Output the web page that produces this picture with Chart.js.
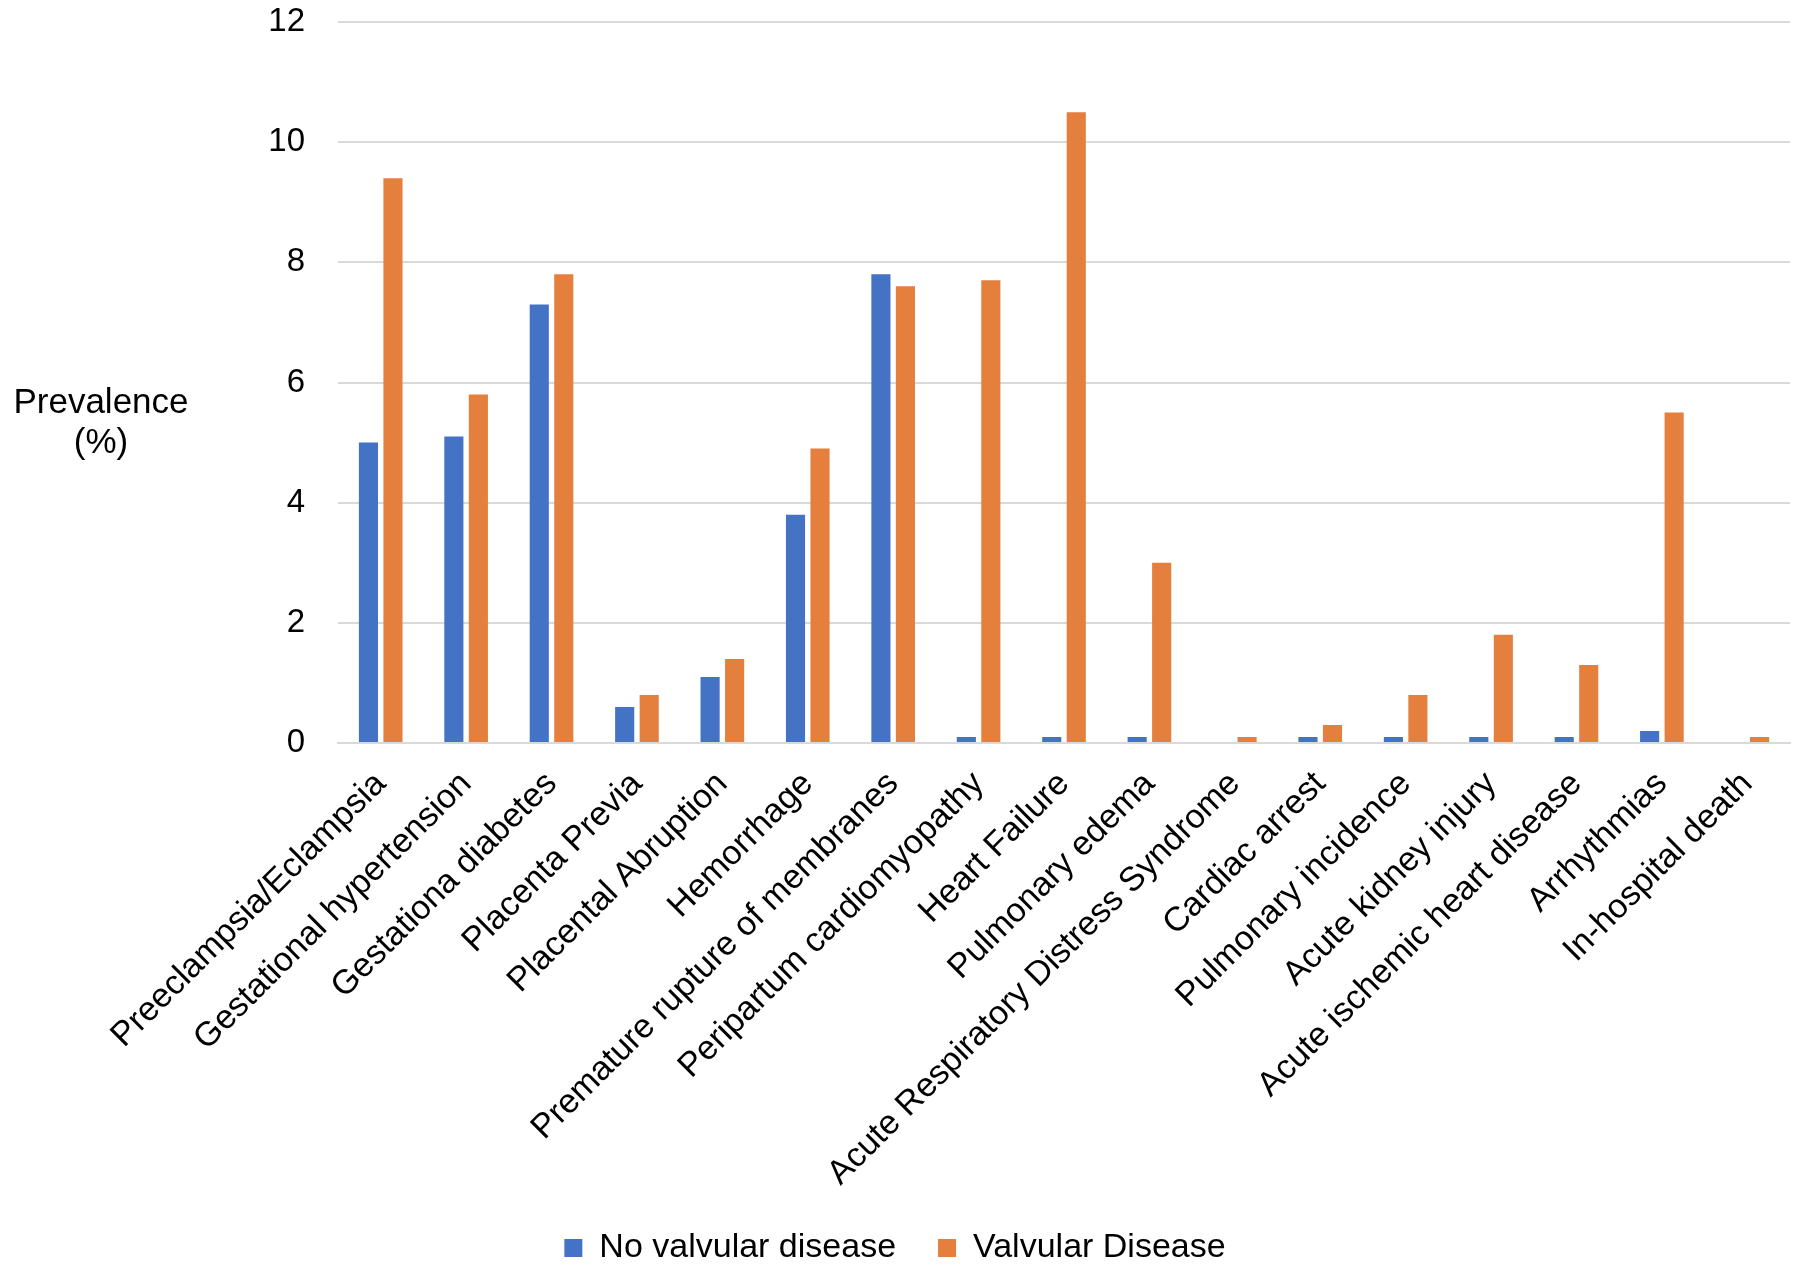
<!DOCTYPE html>
<html>
<head>
<meta charset="utf-8">
<script src="https://cdn.jsdelivr.net/npm/chart.js@4/dist/chart.umd.min.js"></script>
<style>
  html, body { margin: 0; padding: 0; background: #fff; }
  #wrap { position: relative; width: 1800px; height: 1267px; }
  #ytitle {
    position: absolute; left: 0; top: 381px; width: 202px;
    text-align: center; font-family: "Liberation Sans", Arial, sans-serif;
    font-size: 35px; line-height: 40px; color: #000;
  }
</style>
</head>
<body>
<div id="wrap">
  <canvas id="chart"></canvas>
  <div id="ytitle">Prevalence<br>(%)</div>
</div>
<script>
const categories = [
  'Preeclampsia/Eclampsia', 'Gestational hypertension', 'Gestationa diabetes',
  'Placenta Previa', 'Placental Abruption', 'Hemorrhage',
  'Premature rupture of membranes', 'Peripartum cardiomyopathy', 'Heart Failure',
  'Pulmonary edema', 'Acute Respiratory Distress Syndrome', 'Cardiac arrest',
  'Pulmonary incidence', 'Acute kidney injury', 'Acute ischemic heart disease',
  'Arrhythmias', 'In-hospital death'
];
const noValvular = [5.0, 5.1, 7.3, 0.6, 1.1, 3.8, 7.8, 0.1, 0.1, 0.1, 0, 0.1, 0.1, 0.1, 0.1, 0.2, 0];
const valvular = [9.4, 5.8, 7.8, 0.8, 1.4, 4.9, 7.6, 7.7, 10.5, 3.0, 0.1, 0.3, 0.8, 1.8, 1.3, 5.5, 0.1];
const seriesNames = ['No valvular disease', 'Valvular Disease'];
const yTicks = [0, 2, 4, 6, 8, 10, 12];

const FONT = '"Liberation Sans", Arial, sans-serif';
const GRID = '#d9d9d9';

new Chart(document.getElementById('chart'), {
  type: 'bar',
  data: {
    labels: categories,
    datasets: [
      { label: seriesNames[0], data: noValvular, backgroundColor: '#4472C4' },
      { label: seriesNames[1], data: valvular, backgroundColor: '#E47F3E' }
    ]
  },
  options: {
    responsive: true,
    maintainAspectRatio: false,
    animation: false,
    datasets: { bar: { categoryPercentage: 0.574, barPercentage: 0.78 } },
    layout: { padding: { left: 0, right: 10, top: 22, bottom: -8 } },
    plugins: {
      tooltip: { enabled: false },
      legend: {
        position: 'bottom',
        labels: {
          color: '#000',
          font: { family: FONT, size: 34 },
          boxWidth: 18, boxHeight: 18,
          padding: 42
        }
      }
    },
    scales: {
      x: {
        // tall enough that the longest slanted label is not clipped
        afterFit: (scale) => { scale.height = 446; },
        grid: { display: false },
        border: { display: true, color: GRID, width: 2 },
        ticks: {
          color: '#000',
          font: { family: FONT, size: 34 },
          autoSkip: false, maxRotation: 45, minRotation: 45, padding: 13
        }
      },
      y: {
        min: 0, max: 12,
        afterFit: (scale) => {
          scale.width = 338;
          scale.paddingTop = 0;
          scale.paddingBottom = 0;
        },
        afterBuildTicks: (scale) => { scale.ticks = yTicks.map(v => ({ value: v })); },
        grid: { color: GRID, lineWidth: 2, drawTicks: false },
        border: { display: false },
        ticks: {
          color: '#000',
          font: { family: FONT, size: 33 },
          padding: 33
        }
      }
    }
  }
});
</script>
</body>
</html>
